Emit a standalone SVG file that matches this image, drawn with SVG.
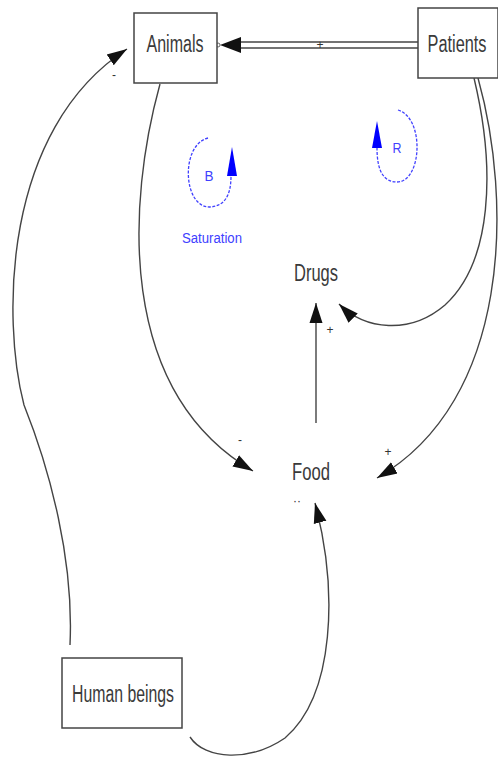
<svg xmlns="http://www.w3.org/2000/svg" width="498" height="760" viewBox="0 0 498 760">
<style>
.box{fill:#fff;stroke:#444;stroke-width:1.5}
.lbl{font-family:"Liberation Sans",Arial,sans-serif;font-size:23px;fill:#3a3a3a;text-anchor:middle}
.c{fill:none;stroke:#444;stroke-width:1.4}
.sign{font-family:"Liberation Sans",Arial,sans-serif;font-size:12px;fill:#333;text-anchor:middle}
.loop{fill:none;stroke:#4040ff;stroke-width:1.3;stroke-dasharray:3 1.5}
.lt{font-family:"Liberation Sans",Arial,sans-serif;fill:#4040ff;text-anchor:middle}
</style>
<defs>
<marker id="ah" markerUnits="userSpaceOnUse" markerWidth="22" markerHeight="16" refX="20" refY="8" orient="auto">
<path d="M0,1.5 L20,8 L0,14.5 Z" fill="#111"/>
</marker>
</defs>
<rect width="498" height="760" fill="#fff"/>
<g id="connectors">
<line x1="418" y1="42" x2="238" y2="42" stroke="#444" stroke-width="1.5"/>
<line x1="418" y1="48" x2="238" y2="48" stroke="#444" stroke-width="1.5"/>
<polygon points="220,45 241,37 241,53" fill="#111"/>
<circle cx="218" cy="45" r="2" fill="#fff" stroke="#444" stroke-width="0.8"/>
<text class="sign" x="320" y="49" font-size="11">+</text>
<path class="c" d="M160,84 C128,200 115,390 253,471" marker-end="url(#ah)"/>
<text class="sign" x="240" y="444">-</text>
<path class="c" d="M70,645 C74,560 50,470 24,405 C2,320 2,130 127,49" marker-end="url(#ah)"/>
<text class="sign" x="114" y="79">-</text>
<path class="c" d="M316,423 L316,303" marker-end="url(#ah)"/>
<text class="sign" x="330" y="334">+</text>
<path class="c" d="M474,78 C496,170 492,262 445,305 C410,335 365,330 339,304" marker-end="url(#ah)"/>
<path class="c" d="M478,78 C512,200 512,400 377,478" marker-end="url(#ah)"/>
<text class="sign" x="388" y="456">+</text>
<path class="c" d="M190,737 C205,760 250,762 285,738 C335,695 338,590 315,503" marker-end="url(#ah)"/>
<text class="sign" x="297" y="505" font-size="9">··</text>
</g>
<g id="animals">
<rect class="box" x="134" y="13" width="83" height="70"/>
<text class="lbl" x="175" y="52" textLength="57" lengthAdjust="spacingAndGlyphs">Animals</text>
</g>
<g id="patients">
<rect class="box" x="418" y="8" width="80" height="70"/>
<text class="lbl" x="457" y="52" font-size="21" textLength="59" lengthAdjust="spacingAndGlyphs">Patients</text>
</g>
<g id="drugs">
<text class="lbl" x="316" y="281" textLength="44" lengthAdjust="spacingAndGlyphs">Drugs</text>
</g>
<g id="food">
<text class="lbl" x="311" y="480" textLength="38" lengthAdjust="spacingAndGlyphs">Food</text>
</g>
<g id="human-beings">
<rect class="box" x="62" y="658" width="120" height="70"/>
<text class="lbl" x="123" y="702" textLength="102" lengthAdjust="spacingAndGlyphs">Human beings</text>
</g>
<g id="loop-b">
<path class="loop" d="M208,138 C180,145 183,208 210,207 C225,206 231,195 231,176"/>
<polygon points="232,147 227,176 237,176" fill="#0000ff"/>
<text class="lt" x="209" y="181" font-size="14" textLength="9" lengthAdjust="spacingAndGlyphs">B</text>
<text class="lt" x="212" y="243" font-size="14" textLength="60" lengthAdjust="spacingAndGlyphs">Saturation</text>
</g>
<g id="loop-r">
<path class="loop" d="M398,110 C425,118 422,182 397,182 C383,182 377,170 377,148"/>
<polygon points="377,121 372,148 382,148" fill="#0000ff"/>
<text class="lt" x="397" y="153" font-size="14" textLength="9" lengthAdjust="spacingAndGlyphs">R</text>
</g>
</svg>
